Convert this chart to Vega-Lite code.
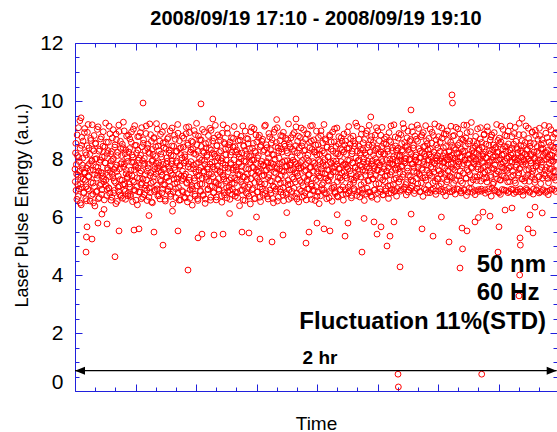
{
"$schema":"https://vega.github.io/schema/vega-lite/v6.json",
"width":482,"height":348,
"autosize":{"type":"none"},
"padding":{"left":75,"top":43,"right":0,"bottom":41},
"title":{"text":"2008/09/19 17:10 - 2008/09/19 19:10","font":"Liberation Sans","fontSize":20,"fontWeight":"bold","color":"black","anchor":"middle","frame":"group","offset":3},
"config":{"view":{"stroke":null},"font":"Liberation Sans","axis":{"grid":false,"domainColor":"#2020dd","tickColor":"#2020dd","domainWidth":1,"tickWidth":1,"labelFont":"Liberation Sans","titleFont":"Liberation Sans","labelColor":"black","titleColor":"black"}},
"datasets":{"pts":[
{"t":0,"e":7.65},{"t":8,"e":8.21},{"t":16,"e":6.92},{"t":24,"e":7.48},{"t":32,"e":8.83},{"t":40,"e":7.12},{"t":48,"e":6.71},{"t":56,"e":8.05},{"t":64,"e":7.91},{"t":72,"e":9.32},{"t":80,"e":6.48},{"t":88,"e":7.36},{"t":96,"e":8.47},{"t":104,"e":7.02},{"t":112,"e":7.79},{"t":120,"e":8.62},{"t":128,"e":6.85},{"t":136,"e":7.55},{"t":144,"e":9.05},{"t":152,"e":7.27},{"t":160,"e":6.63},{"t":168,"e":8.14},{"t":176,"e":7.68},{"t":184,"e":8.92},{"t":192,"e":6.97},{"t":200,"e":7.41},{"t":208,"e":8.38},{"t":216,"e":7.84},{"t":224,"e":6.55},{"t":232,"e":8.71},{"t":240,"e":7.19},{"t":248,"e":7.93},{"t":256,"e":9.18},{"t":264,"e":6.79},{"t":272,"e":7.62},{"t":280,"e":8.28},{"t":288,"e":7.05},{"t":296,"e":6.38},{"t":304,"e":8.55},{"t":312,"e":7.73},{"t":320,"e":8.01},{"t":328,"e":6.89},{"t":336,"e":7.44},{"t":344,"e":9.11},{"t":352,"e":7.58},{"t":360,"e":6.67},{"t":368,"e":8.33},{"t":376,"e":7.96},{"t":384,"e":7.15},{"t":392,"e":8.76},{"t":400,"e":6.94},{"t":408,"e":7.52},{"t":416,"e":8.44},{"t":424,"e":7.31},{"t":432,"e":6.26},{"t":440,"e":8.09},{"t":448,"e":7.87},{"t":456,"e":9.24},{"t":464,"e":7.08},{"t":472,"e":6.74},{"t":480,"e":8.19},{"t":488,"e":7.63},{"t":496,"e":8.58},{"t":504,"e":6.99},{"t":512,"e":7.39},{"t":520,"e":8.87},{"t":528,"e":7.77},{"t":536,"e":6.58},{"t":544,"e":8.26},{"t":552,"e":7.47},{"t":560,"e":7.98},{"t":568,"e":9.01},{"t":576,"e":6.83},{"t":584,"e":7.24},{"t":592,"e":8.41},{"t":600,"e":7.71},{"t":608,"e":6.46},{"t":616,"e":8.67},{"t":624,"e":7.57},{"t":632,"e":8.12},{"t":640,"e":7.03},{"t":648,"e":6.88},{"t":656,"e":8.95},{"t":664,"e":7.66},{"t":672,"e":7.29},{"t":680,"e":8.36},{"t":688,"e":6.72},{"t":696,"e":7.88},{"t":704,"e":8.51},{"t":712,"e":7.11},{"t":720,"e":9.27},{"t":728,"e":6.95},{"t":736,"e":7.83},{"t":744,"e":8.18},{"t":752,"e":6.61},{"t":760,"e":7.49},{"t":768,"e":8.79},{"t":776,"e":7.35},{"t":784,"e":7.92},{"t":792,"e":6.81},
{"t":800,"e":8.24},{"t":808,"e":7.14},{"t":816,"e":8.69},{"t":824,"e":6.77},{"t":832,"e":7.61},{"t":840,"e":8.93},{"t":848,"e":7.42},{"t":856,"e":6.53},{"t":864,"e":8.06},{"t":872,"e":7.89},{"t":880,"e":7.21},{"t":888,"e":9.15},{"t":896,"e":6.91},{"t":904,"e":7.74},{"t":912,"e":8.47},{"t":920,"e":7.05},{"t":928,"e":6.42},{"t":936,"e":8.31},{"t":944,"e":7.96},{"t":952,"e":8.78},{"t":960,"e":7.33},{"t":968,"e":6.86},{"t":976,"e":8.13},{"t":984,"e":7.59},{"t":992,"e":9.08},{"t":1000,"e":7.17},{"t":1008,"e":6.68},{"t":1016,"e":8.54},{"t":1024,"e":7.81},{"t":1032,"e":8.02},{"t":1040,"e":6.99},{"t":1048,"e":7.46},{"t":1056,"e":8.88},{"t":1064,"e":7.28},{"t":1072,"e":6.57},{"t":1080,"e":8.37},{"t":1088,"e":7.69},{"t":1096,"e":8.23},{"t":1104,"e":7.01},{"t":1112,"e":9.21},{"t":1120,"e":6.84},{"t":1128,"e":7.53},{"t":1136,"e":8.61},{"t":1144,"e":7.92},{"t":1152,"e":6.49},{"t":1160,"e":8.16},{"t":1168,"e":7.38},{"t":1176,"e":8.74},{"t":1184,"e":7.64},{"t":1192,"e":6.93},{"t":1200,"e":8.42},{"t":1208,"e":7.86},{"t":1216,"e":7.09},{"t":1224,"e":9.03},{"t":1232,"e":6.73},{"t":1240,"e":7.57},{"t":1248,"e":8.29},{"t":1256,"e":7.78},{"t":1264,"e":6.62},{"t":1272,"e":8.85},{"t":1280,"e":7.23},{"t":1288,"e":8.07},{"t":1296,"e":7.44},{"t":1304,"e":6.96},{"t":1312,"e":8.56},{"t":1320,"e":7.67},{"t":1328,"e":9.13},{"t":1336,"e":7.12},{"t":1344,"e":6.55},{"t":1352,"e":8.34},{"t":1360,"e":7.83},{"t":1368,"e":7.36},{"t":1376,"e":8.69},{"t":1384,"e":6.89},{"t":1392,"e":7.72},{"t":1400,"e":8.21},{"t":1408,"e":7.04},{"t":1416,"e":8.97},{"t":1424,"e":6.71},{"t":1432,"e":7.51},{"t":1440,"e":8.45},{"t":1448,"e":7.94},{"t":1456,"e":6.44},{"t":1464,"e":8.11},{"t":1472,"e":7.31},{"t":1480,"e":8.82},{"t":1488,"e":7.62},{"t":1496,"e":6.98},{"t":1504,"e":8.27},{"t":1512,"e":7.87},{"t":1520,"e":7.19},{"t":1528,"e":9.19},{"t":1536,"e":6.82},{"t":1544,"e":7.48},{"t":1552,"e":8.63},{"t":1560,"e":7.75},{"t":1568,"e":6.59},{"t":1576,"e":8.39},{"t":1584,"e":7.26},{"t":1592,"e":8.04},
{"t":1600,"e":7.58},{"t":1608,"e":6.87},{"t":1616,"e":8.72},{"t":1624,"e":7.41},{"t":1632,"e":8.15},{"t":1640,"e":6.66},{"t":1648,"e":7.93},{"t":1656,"e":9.09},{"t":1664,"e":7.16},{"t":1672,"e":6.52},{"t":1680,"e":8.48},{"t":1688,"e":7.84},{"t":1696,"e":7.27},{"t":1704,"e":8.91},{"t":1712,"e":6.94},{"t":1720,"e":7.67},{"t":1728,"e":8.32},{"t":1736,"e":7.02},{"t":1744,"e":6.41},{"t":1752,"e":8.58},{"t":1760,"e":7.79},{"t":1768,"e":8.19},{"t":1776,"e":7.34},{"t":1784,"e":6.78},{"t":1792,"e":8.84},{"t":1800,"e":7.55},{"t":1808,"e":9.23},{"t":1816,"e":7.08},{"t":1824,"e":6.63},{"t":1832,"e":8.26},{"t":1840,"e":7.88},{"t":1848,"e":7.43},{"t":1856,"e":8.66},{"t":1864,"e":6.91},{"t":1872,"e":7.71},{"t":1880,"e":8.43},{"t":1888,"e":7.13},{"t":1896,"e":9.02},{"t":1904,"e":6.74},{"t":1912,"e":7.59},{"t":1920,"e":8.22},{"t":1928,"e":7.95},{"t":1936,"e":6.47},{"t":1944,"e":8.53},{"t":1952,"e":7.37},{"t":1960,"e":8.08},{"t":1968,"e":7.66},{"t":1976,"e":6.97},{"t":1984,"e":8.81},{"t":1992,"e":7.24},{"t":2000,"e":8.36},{"t":2008,"e":7.82},{"t":2016,"e":6.58},{"t":2024,"e":8.99},{"t":2032,"e":7.49},{"t":2040,"e":7.06},{"t":2048,"e":8.62},{"t":2056,"e":7.73},{"t":2064,"e":6.83},{"t":2072,"e":8.17},{"t":2080,"e":7.91},{"t":2088,"e":9.16},{"t":2096,"e":7.18},{"t":2104,"e":6.69},{"t":2112,"e":8.46},{"t":2120,"e":7.63},{"t":2128,"e":8.03},{"t":2136,"e":7.32},{"t":2144,"e":6.92},{"t":2152,"e":8.77},{"t":2160,"e":7.54},{"t":2168,"e":8.28},{"t":2176,"e":7.09},{"t":2184,"e":6.51},{"t":2192,"e":8.89},{"t":2200,"e":7.85},{"t":2208,"e":7.39},{"t":2216,"e":8.57},{"t":2224,"e":6.76},{"t":2232,"e":7.69},{"t":2240,"e":8.35},{"t":2248,"e":7.97},{"t":2256,"e":7.01},{"t":2264,"e":9.06},{"t":2272,"e":6.88},{"t":2280,"e":7.56},{"t":2288,"e":8.49},{"t":2296,"e":7.28},{"t":2304,"e":6.61},{"t":2312,"e":8.14},{"t":2320,"e":7.81},{"t":2328,"e":8.73},{"t":2336,"e":7.15},{"t":2344,"e":6.95},{"t":2352,"e":8.41},{"t":2360,"e":7.68},{"t":2368,"e":9.12},{"t":2376,"e":7.35},{"t":2384,"e":6.72},{"t":2392,"e":8.24},
{"t":2400,"e":7.61},{"t":2408,"e":8.86},{"t":2416,"e":6.84},{"t":2424,"e":7.47},{"t":2432,"e":8.18},{"t":2440,"e":7.89},{"t":2448,"e":6.39},{"t":2456,"e":8.65},{"t":2464,"e":7.22},{"t":2472,"e":8.01},{"t":2480,"e":7.74},{"t":2488,"e":6.93},{"t":2496,"e":9.14},{"t":2504,"e":7.38},{"t":2512,"e":8.44},{"t":2520,"e":7.06},{"t":2528,"e":6.57},{"t":2536,"e":8.29},{"t":2544,"e":7.91},{"t":2552,"e":8.71},{"t":2560,"e":7.29},{"t":2568,"e":6.79},{"t":2576,"e":8.53},{"t":2584,"e":7.65},{"t":2592,"e":8.09},{"t":2600,"e":7.12},{"t":2608,"e":6.45},{"t":2616,"e":8.94},{"t":2624,"e":7.52},{"t":2632,"e":7.97},{"t":2640,"e":8.37},{"t":2648,"e":6.98},{"t":2656,"e":7.71},{"t":2664,"e":9.04},{"t":2672,"e":7.19},{"t":2680,"e":6.64},{"t":2688,"e":8.22},{"t":2696,"e":7.84},{"t":2704,"e":8.59},{"t":2712,"e":7.33},{"t":2720,"e":6.87},{"t":2728,"e":8.12},{"t":2736,"e":7.58},{"t":2744,"e":8.82},{"t":2752,"e":7.03},{"t":2760,"e":6.53},{"t":2768,"e":8.47},{"t":2776,"e":7.92},{"t":2784,"e":7.41},{"t":2792,"e":8.68},{"t":2800,"e":6.75},{"t":2808,"e":7.79},{"t":2816,"e":8.31},{"t":2824,"e":7.14},{"t":2832,"e":9.17},{"t":2840,"e":6.91},{"t":2848,"e":7.63},{"t":2856,"e":8.39},{"t":2864,"e":7.87},{"t":2872,"e":6.62},{"t":2880,"e":8.04},{"t":2888,"e":7.46},{"t":2896,"e":8.76},{"t":2904,"e":7.25},{"t":2912,"e":6.81},{"t":2920,"e":8.55},{"t":2928,"e":7.73},{"t":2936,"e":8.16},{"t":2944,"e":7.07},{"t":2952,"e":6.49},{"t":2960,"e":8.92},{"t":2968,"e":7.54},{"t":2976,"e":7.99},{"t":2984,"e":8.43},{"t":2992,"e":6.96},{"t":3000,"e":7.67},{"t":3008,"e":9.08},{"t":3016,"e":7.31},{"t":3024,"e":6.68},{"t":3032,"e":8.27},{"t":3040,"e":7.82},{"t":3048,"e":8.63},{"t":3056,"e":7.17},{"t":3064,"e":6.86},{"t":3072,"e":8.35},{"t":3080,"e":7.59},{"t":3088,"e":8.79},{"t":3096,"e":7.02},{"t":3104,"e":6.56},{"t":3112,"e":8.51},{"t":3120,"e":7.94},{"t":3128,"e":7.43},{"t":3136,"e":8.71},{"t":3144,"e":6.78},{"t":3152,"e":7.76},{"t":3160,"e":8.21},{"t":3168,"e":7.11},{"t":3176,"e":9.21},{"t":3184,"e":6.94},{"t":3192,"e":7.62},
{"t":3200,"e":8.42},{"t":3208,"e":7.86},{"t":3216,"e":6.67},{"t":3224,"e":8.07},{"t":3232,"e":7.37},{"t":3240,"e":8.84},{"t":3248,"e":7.64},{"t":3256,"e":6.99},{"t":3264,"e":8.26},{"t":3272,"e":7.89},{"t":3280,"e":7.21},{"t":3288,"e":9.11},{"t":3296,"e":6.83},{"t":3304,"e":7.51},{"t":3312,"e":8.61},{"t":3320,"e":7.77},{"t":3328,"e":6.52},{"t":3336,"e":8.38},{"t":3344,"e":7.26},{"t":3352,"e":8.74},{"t":3360,"e":7.68},{"t":3368,"e":6.89},{"t":3376,"e":8.45},{"t":3384,"e":7.95},{"t":3392,"e":7.08},{"t":3400,"e":9.01},{"t":3408,"e":6.73},{"t":3416,"e":7.58},{"t":3424,"e":8.31},{"t":3432,"e":7.81},{"t":3440,"e":6.59},{"t":3448,"e":8.87},{"t":3456,"e":7.29},{"t":3464,"e":8.13},{"t":3472,"e":7.45},{"t":3480,"e":6.97},{"t":3488,"e":8.57},{"t":3496,"e":7.71},{"t":3504,"e":9.14},{"t":3512,"e":7.13},{"t":3520,"e":6.61},{"t":3528,"e":8.33},{"t":3536,"e":7.91},{"t":3544,"e":7.34},{"t":3552,"e":8.66},{"t":3560,"e":6.92},{"t":3568,"e":7.74},{"t":3576,"e":8.24},{"t":3584,"e":7.05},{"t":3592,"e":8.96},{"t":3600,"e":6.71},{"t":3608,"e":7.53},{"t":3616,"e":8.49},{"t":3624,"e":7.97},{"t":3632,"e":6.46},{"t":3640,"e":8.17},{"t":3648,"e":7.36},{"t":3656,"e":8.81},{"t":3664,"e":7.66},{"t":3672,"e":6.95},{"t":3680,"e":8.28},{"t":3688,"e":7.88},{"t":3696,"e":7.18},{"t":3704,"e":9.19},{"t":3712,"e":6.84},{"t":3720,"e":7.49},{"t":3728,"e":8.64},{"t":3736,"e":7.78},{"t":3744,"e":6.63},{"t":3752,"e":8.41},{"t":3760,"e":7.27},{"t":3768,"e":8.06},{"t":3776,"e":7.61},{"t":3784,"e":6.88},{"t":3792,"e":8.78},{"t":3800,"e":7.39},{"t":3808,"e":8.34},{"t":3816,"e":7.84},{"t":3824,"e":6.54},{"t":3832,"e":8.93},{"t":3840,"e":7.56},{"t":3848,"e":7.09},{"t":3856,"e":8.59},{"t":3864,"e":7.73},{"t":3872,"e":6.81},{"t":3880,"e":8.19},{"t":3888,"e":7.93},{"t":3896,"e":9.07},{"t":3904,"e":7.22},{"t":3912,"e":6.69},{"t":3920,"e":8.52},{"t":3928,"e":7.67},{"t":3936,"e":8.11},{"t":3944,"e":7.35},{"t":3952,"e":6.93},{"t":3960,"e":8.73},{"t":3968,"e":7.52},{"t":3976,"e":8.32},{"t":3984,"e":7.04},{"t":3992,"e":6.58},
{"t":4000,"e":8.86},{"t":4008,"e":7.83},{"t":4016,"e":7.42},{"t":4024,"e":8.62},{"t":4032,"e":6.79},{"t":4040,"e":7.72},{"t":4048,"e":8.37},{"t":4056,"e":7.96},{"t":4064,"e":7.03},{"t":4072,"e":9.12},{"t":4080,"e":6.89},{"t":4088,"e":7.59},{"t":4096,"e":8.51},{"t":4104,"e":7.31},{"t":4112,"e":6.66},{"t":4120,"e":8.18},{"t":4128,"e":7.87},{"t":4136,"e":8.79},{"t":4144,"e":7.19},{"t":4152,"e":6.97},{"t":4160,"e":8.44},{"t":4168,"e":7.69},{"t":4176,"e":9.24},{"t":4184,"e":7.36},{"t":4192,"e":6.74},{"t":4200,"e":8.27},{"t":4208,"e":7.94},{"t":4216,"e":7.47},{"t":4224,"e":8.68},{"t":4232,"e":6.91},{"t":4240,"e":7.78},{"t":4248,"e":8.33},{"t":4256,"e":7.11},{"t":4264,"e":9.03},{"t":4272,"e":6.82},{"t":4280,"e":7.63},{"t":4288,"e":8.56},{"t":4296,"e":8.01},{"t":4304,"e":6.57},{"t":4312,"e":8.21},{"t":4320,"e":7.44},{"t":4328,"e":8.88},{"t":4336,"e":7.71},{"t":4344,"e":6.99},{"t":4352,"e":8.39},{"t":4360,"e":7.92},{"t":4368,"e":7.24},{"t":4376,"e":9.16},{"t":4384,"e":6.86},{"t":4392,"e":7.57},{"t":4400,"e":8.66},{"t":4408,"e":7.82},{"t":4416,"e":6.68},{"t":4424,"e":8.47},{"t":4432,"e":7.32},{"t":4440,"e":8.14},{"t":4448,"e":7.67},{"t":4456,"e":6.94},{"t":4464,"e":8.83},{"t":4472,"e":7.43},{"t":4480,"e":8.36},{"t":4488,"e":7.89},{"t":4496,"e":6.61},{"t":4504,"e":8.97},{"t":4512,"e":7.62},{"t":4520,"e":7.15},{"t":4528,"e":8.63},{"t":4536,"e":7.79},{"t":4544,"e":6.87},{"t":4552,"e":8.24},{"t":4560,"e":7.98},{"t":4568,"e":9.09},{"t":4576,"e":7.28},{"t":4584,"e":6.77},{"t":4592,"e":8.54},{"t":4600,"e":7.74},{"t":4608,"e":8.17},{"t":4616,"e":7.41},{"t":4624,"e":6.98},{"t":4632,"e":8.76},{"t":4640,"e":7.58},{"t":4648,"e":8.35},{"t":4656,"e":7.07},{"t":4664,"e":6.64},{"t":4672,"e":8.91},{"t":4680,"e":7.86},{"t":4688,"e":7.46},{"t":4696,"e":8.59},{"t":4704,"e":6.83},{"t":4712,"e":7.81},{"t":4720,"e":8.29},{"t":4728,"e":7.99},{"t":4736,"e":7.13},{"t":4744,"e":9.18},{"t":4752,"e":6.92},{"t":4760,"e":7.68},{"t":4768,"e":8.45},{"t":4776,"e":7.34},{"t":4784,"e":6.72},{"t":4792,"e":8.12},
{"t":4800,"e":7.88},{"t":4808,"e":8.72},{"t":4816,"e":7.21},{"t":4824,"e":8.09},{"t":4832,"e":7.54},{"t":4840,"e":6.89},{"t":4848,"e":8.84},{"t":4856,"e":7.76},{"t":4864,"e":8.31},{"t":4872,"e":7.38},{"t":4880,"e":9.22},{"t":4888,"e":6.97},{"t":4896,"e":7.93},{"t":4904,"e":8.57},{"t":4912,"e":8.02},{"t":4920,"e":7.12},{"t":4928,"e":6.76},{"t":4936,"e":8.46},{"t":4944,"e":7.69},{"t":4952,"e":8.96},{"t":4960,"e":7.44},{"t":4968,"e":6.93},{"t":4976,"e":8.23},{"t":4984,"e":7.99},{"t":4992,"e":8.67},{"t":5000,"e":7.27},{"t":5008,"e":9.11},{"t":5016,"e":7.06},{"t":5024,"e":7.84},{"t":5032,"e":8.38},{"t":5040,"e":7.57},{"t":5048,"e":6.81},{"t":5056,"e":8.79},{"t":5064,"e":7.96},{"t":5072,"e":8.14},{"t":5080,"e":7.33},{"t":5088,"e":6.99},{"t":5096,"e":8.61},{"t":5104,"e":7.72},{"t":5112,"e":9.05},{"t":5120,"e":7.48},{"t":5128,"e":6.87},{"t":5136,"e":8.27},{"t":5144,"e":8.04},{"t":5152,"e":7.18},{"t":5160,"e":8.83},{"t":5168,"e":7.63},{"t":5176,"e":6.71},{"t":5184,"e":8.42},{"t":5192,"e":7.91},{"t":5200,"e":8.18},{"t":5208,"e":7.36},{"t":5216,"e":9.15},{"t":5224,"e":6.94},{"t":5232,"e":7.79},{"t":5240,"e":8.53},{"t":5248,"e":7.97},{"t":5256,"e":7.09},{"t":5264,"e":8.71},{"t":5272,"e":7.52},{"t":5280,"e":6.84},{"t":5288,"e":8.34},{"t":5296,"e":8.07},{"t":5304,"e":7.41},{"t":5312,"e":8.92},{"t":5320,"e":7.67},{"t":5328,"e":6.96},{"t":5336,"e":8.24},{"t":5344,"e":7.86},{"t":5352,"e":9.21},{"t":5360,"e":7.23},{"t":5368,"e":6.78},{"t":5376,"e":8.49},{"t":5384,"e":7.94},{"t":5392,"e":8.11},{"t":5400,"e":7.31},{"t":5408,"e":8.77},{"t":5416,"e":7.59},{"t":5424,"e":6.91},{"t":5432,"e":8.58},{"t":5440,"e":8.01},{"t":5448,"e":7.14},{"t":5456,"e":9.07},{"t":5464,"e":7.74},{"t":5472,"e":6.86},{"t":5480,"e":8.39},{"t":5488,"e":7.89},{"t":5496,"e":8.21},{"t":5504,"e":7.47},{"t":5512,"e":6.73},{"t":5520,"e":8.86},{"t":5528,"e":7.98},{"t":5536,"e":7.29},{"t":5544,"e":8.64},{"t":5552,"e":7.81},{"t":5560,"e":6.98},{"t":5568,"e":8.28},{"t":5576,"e":8.06},{"t":5584,"e":7.38},{"t":5592,"e":9.13},
{"t":5600,"e":7.71},{"t":5608,"e":6.88},{"t":5616,"e":8.47},{"t":5624,"e":8.03},{"t":5632,"e":7.16},{"t":5640,"e":8.81},{"t":5648,"e":7.62},{"t":5656,"e":6.79},{"t":5664,"e":8.33},{"t":5672,"e":7.94},{"t":5680,"e":8.19},{"t":5688,"e":7.43},{"t":5696,"e":9.04},{"t":5704,"e":6.95},{"t":5712,"e":7.83},{"t":5720,"e":8.56},{"t":5728,"e":8.08},{"t":5736,"e":7.24},{"t":5744,"e":6.83},{"t":5752,"e":8.69},{"t":5760,"e":7.77},{"t":5768,"e":8.26},{"t":5776,"e":7.51},{"t":5784,"e":9.17},{"t":5792,"e":6.92},{"t":5800,"e":7.97},{"t":5808,"e":8.44},{"t":5816,"e":7.34},{"t":5824,"e":6.74},{"t":5832,"e":8.91},{"t":5840,"e":7.86},{"t":5848,"e":8.13},{"t":5856,"e":7.57},{"t":5864,"e":6.99},{"t":5872,"e":8.62},{"t":5880,"e":8.02},{"t":5888,"e":7.19},{"t":5896,"e":9.26},{"t":5904,"e":7.68},{"t":5912,"e":6.85},{"t":5920,"e":8.37},{"t":5928,"e":7.91},{"t":5936,"e":8.22},{"t":5944,"e":7.39},{"t":5952,"e":6.77},{"t":5960,"e":8.78},{"t":5968,"e":7.99},{"t":5976,"e":7.26},{"t":5984,"e":8.54},{"t":5992,"e":7.73},{"t":6000,"e":6.94},{"t":6008,"e":8.31},{"t":6016,"e":8.09},{"t":6024,"e":7.45},{"t":6032,"e":9.08},{"t":6040,"e":7.64},{"t":6048,"e":6.89},{"t":6056,"e":8.41},{"t":6064,"e":7.92},{"t":6072,"e":8.17},{"t":6080,"e":7.32},{"t":6088,"e":8.86},{"t":6096,"e":7.55},{"t":6104,"e":6.82},{"t":6112,"e":8.51},{"t":6120,"e":8.04},{"t":6128,"e":7.21},{"t":6136,"e":8.97},{"t":6144,"e":7.78},{"t":6152,"e":6.97},{"t":6160,"e":8.29},{"t":6168,"e":7.88},{"t":6176,"e":8.66},{"t":6184,"e":7.37},{"t":6192,"e":6.72},{"t":6200,"e":8.83},{"t":6208,"e":7.95},{"t":6216,"e":7.13},{"t":6224,"e":8.48},{"t":6232,"e":7.66},{"t":6240,"e":6.91},{"t":6248,"e":8.36},{"t":6256,"e":8.11},{"t":6264,"e":7.49},{"t":6272,"e":9.19},{"t":6280,"e":7.59},{"t":6288,"e":6.86},{"t":6296,"e":8.24},{"t":6304,"e":7.96},{"t":6312,"e":8.72},{"t":6320,"e":7.28},{"t":6328,"e":6.78},{"t":6336,"e":8.59},{"t":6344,"e":7.84},{"t":6352,"e":8.14},{"t":6360,"e":7.42},{"t":6368,"e":9.02},{"t":6376,"e":7.69},{"t":6384,"e":6.93},{"t":6392,"e":8.43},
{"t":6400,"e":7.93},{"t":6408,"e":8.27},{"t":6416,"e":7.35},{"t":6424,"e":8.79},{"t":6432,"e":7.61},{"t":6440,"e":6.84},{"t":6448,"e":8.52},{"t":6456,"e":8.06},{"t":6464,"e":7.22},{"t":6472,"e":9.14},{"t":6480,"e":7.74},{"t":6488,"e":6.96},{"t":6496,"e":8.38},{"t":6504,"e":7.89},{"t":6512,"e":8.18},{"t":6520,"e":7.44},{"t":6528,"e":6.81},{"t":6536,"e":8.88},{"t":6544,"e":7.98},{"t":6552,"e":7.17},{"t":6560,"e":8.61},{"t":6568,"e":7.79},{"t":6576,"e":6.92},{"t":6584,"e":8.33},{"t":6592,"e":8.01},{"t":6600,"e":7.52},{"t":6608,"e":9.23},{"t":6616,"e":7.67},{"t":6624,"e":6.87},{"t":6632,"e":8.46},{"t":6640,"e":7.91},{"t":6648,"e":8.21},{"t":6656,"e":7.31},{"t":6664,"e":6.75},{"t":6672,"e":8.84},{"t":6680,"e":7.97},{"t":6688,"e":7.24},{"t":6696,"e":8.57},{"t":6704,"e":7.83},{"t":6712,"e":6.98},{"t":6720,"e":8.32},{"t":6728,"e":8.09},{"t":6736,"e":7.46},{"t":6744,"e":9.06},{"t":6752,"e":7.63},{"t":6760,"e":6.89},{"t":6768,"e":8.44},{"t":6776,"e":7.94},{"t":6784,"e":8.16},{"t":6792,"e":7.37},{"t":6800,"e":8.92},{"t":6808,"e":7.58},{"t":6816,"e":6.79},{"t":6824,"e":8.53},{"t":6832,"e":8.03},{"t":6840,"e":7.19},{"t":6848,"e":8.99},{"t":6856,"e":7.76},{"t":6864,"e":6.94},{"t":6872,"e":8.26},{"t":6880,"e":7.87},{"t":6888,"e":8.68},{"t":6896,"e":7.39},{"t":6904,"e":6.83},{"t":6912,"e":8.81},{"t":6920,"e":7.96},{"t":6928,"e":7.15},{"t":6936,"e":8.49},{"t":6944,"e":7.71},{"t":6952,"e":6.91},{"t":6960,"e":8.35},{"t":6968,"e":8.12},{"t":6976,"e":7.48},{"t":6984,"e":9.16},{"t":6992,"e":7.62},{"t":7000,"e":6.85},{"t":7008,"e":8.23},{"t":7016,"e":7.99},{"t":7024,"e":8.74},{"t":7032,"e":7.33},{"t":7040,"e":6.77},{"t":7048,"e":8.58},{"t":7056,"e":7.85},{"t":7064,"e":8.15},{"t":7072,"e":7.43},{"t":7080,"e":9.01},{"t":7088,"e":7.66},{"t":7096,"e":6.97},{"t":7104,"e":8.42},{"t":7112,"e":7.92},{"t":7120,"e":8.28},{"t":7128,"e":7.36},{"t":7136,"e":8.86},{"t":7144,"e":7.57},{"t":7152,"e":6.88},{"t":7160,"e":8.54},{"t":7168,"e":8.07},
{"t":4,"e":7.22},{"t":12,"e":8.54},{"t":20,"e":7.81},{"t":28,"e":6.61},{"t":36,"e":8.12},{"t":44,"e":7.44},{"t":52,"e":9.08},{"t":60,"e":6.97},{"t":68,"e":7.58},{"t":76,"e":8.37},{"t":84,"e":7.13},{"t":92,"e":6.42},{"t":100,"e":8.75},{"t":108,"e":7.67},{"t":116,"e":8.03},{"t":124,"e":7.31},{"t":132,"e":6.83},{"t":140,"e":8.91},{"t":148,"e":7.52},{"t":156,"e":8.22},{"t":164,"e":7.04},{"t":172,"e":6.56},{"t":180,"e":8.46},{"t":188,"e":7.77},{"t":196,"e":9.19},{"t":204,"e":7.38},{"t":212,"e":6.91},{"t":220,"e":8.16},{"t":228,"e":7.62},{"t":236,"e":8.64},{"t":244,"e":6.74},{"t":252,"e":7.95},{"t":260,"e":8.33},{"t":268,"e":7.17},{"t":276,"e":6.49},{"t":284,"e":8.81},{"t":292,"e":7.46},{"t":300,"e":7.99},{"t":308,"e":8.52},{"t":316,"e":6.87},{"t":324,"e":7.34},{"t":332,"e":9.02},{"t":340,"e":7.71},{"t":348,"e":6.63},{"t":356,"e":8.27},{"t":364,"e":7.88},{"t":372,"e":7.09},{"t":380,"e":8.69},{"t":388,"e":7.53},{"t":396,"e":6.78},{"t":404,"e":8.07},{"t":412,"e":7.42},{"t":420,"e":8.94},{"t":428,"e":7.21},{"t":436,"e":6.59},{"t":444,"e":8.41},{"t":452,"e":7.86},{"t":460,"e":7.28},{"t":468,"e":8.58},{"t":476,"e":6.95},{"t":484,"e":7.69},{"t":492,"e":8.29},{"t":500,"e":7.01},{"t":508,"e":9.13},{"t":516,"e":6.82},{"t":524,"e":7.57},{"t":532,"e":8.18},{"t":540,"e":7.93},{"t":548,"e":6.68},{"t":556,"e":8.73},{"t":564,"e":7.36},{"t":572,"e":8.01},{"t":580,"e":7.64},{"t":588,"e":6.92},{"t":596,"e":8.49},{"t":604,"e":7.18},{"t":612,"e":8.86},{"t":620,"e":7.79},{"t":628,"e":6.54},{"t":636,"e":8.23},{"t":644,"e":7.41},{"t":652,"e":9.17},{"t":660,"e":7.07},{"t":668,"e":6.76},{"t":676,"e":8.61},{"t":684,"e":7.83},{"t":692,"e":8.12},{"t":700,"e":7.27},{"t":708,"e":6.65},{"t":716,"e":8.39},{"t":724,"e":7.72},{"t":732,"e":8.97},{"t":740,"e":7.14},{"t":748,"e":6.89},{"t":756,"e":8.31},{"t":764,"e":7.61},{"t":772,"e":8.05},{"t":780,"e":7.39},{"t":788,"e":6.73},{"t":796,"e":8.82},
{"t":804,"e":7.47},{"t":812,"e":8.36},{"t":820,"e":7.03},{"t":828,"e":6.71},{"t":836,"e":8.58},{"t":844,"e":7.89},{"t":852,"e":8.14},{"t":860,"e":7.26},{"t":868,"e":9.03},{"t":876,"e":6.94},{"t":884,"e":7.63},{"t":892,"e":8.47},{"t":900,"e":7.78},{"t":908,"e":6.58},{"t":916,"e":8.21},{"t":924,"e":7.35},{"t":932,"e":8.77},{"t":940,"e":7.69},{"t":948,"e":6.86},{"t":956,"e":8.03},{"t":964,"e":7.52},{"t":972,"e":8.91},{"t":980,"e":7.12},{"t":988,"e":6.63},{"t":996,"e":8.42},{"t":1004,"e":7.94},{"t":1012,"e":7.31},{"t":1020,"e":8.66},{"t":1028,"e":6.77},{"t":1036,"e":7.85},{"t":1044,"e":8.29},{"t":1052,"e":7.08},{"t":1060,"e":9.14},{"t":1068,"e":6.93},{"t":1076,"e":7.58},{"t":1084,"e":8.51},{"t":1092,"e":7.82},{"t":1100,"e":6.69},{"t":1108,"e":8.19},{"t":1116,"e":7.43},{"t":1124,"e":8.84},{"t":1132,"e":7.16},{"t":1140,"e":6.52},{"t":1148,"e":8.33},{"t":1156,"e":7.97},{"t":1164,"e":7.22},{"t":1172,"e":8.71},{"t":1180,"e":6.88},{"t":1188,"e":7.74},{"t":1196,"e":8.09},{"t":1204,"e":7.49},{"t":1212,"e":9.22},{"t":1220,"e":6.97},{"t":1228,"e":7.67},{"t":1236,"e":8.45},{"t":1244,"e":7.87},{"t":1252,"e":6.74},{"t":1260,"e":8.62},{"t":1268,"e":7.29},{"t":1276,"e":8.17},{"t":1284,"e":7.56},{"t":1292,"e":6.83},{"t":1300,"e":8.93},{"t":1308,"e":7.81},{"t":1316,"e":7.11},{"t":1324,"e":8.39},{"t":1332,"e":7.64},{"t":1340,"e":6.61},{"t":1348,"e":8.57},{"t":1356,"e":7.37},{"t":1364,"e":8.04},{"t":1372,"e":7.92},{"t":1380,"e":6.95},{"t":1388,"e":8.74},{"t":1396,"e":7.24},{"t":1404,"e":8.31},{"t":1412,"e":7.59},{"t":1420,"e":6.79},{"t":1428,"e":8.12},{"t":1436,"e":7.83},{"t":1444,"e":9.07},{"t":1452,"e":7.45},{"t":1460,"e":6.87},{"t":1468,"e":8.44},{"t":1476,"e":7.71},{"t":1484,"e":7.15},{"t":1492,"e":8.68},{"t":1500,"e":6.67},{"t":1508,"e":7.93},{"t":1516,"e":8.26},{"t":1524,"e":7.33},{"t":1532,"e":8.89},{"t":1540,"e":7.02},{"t":1548,"e":6.58},{"t":1556,"e":8.36},{"t":1564,"e":7.79},{"t":1572,"e":8.15},{"t":1580,"e":7.41},{"t":1588,"e":6.91},{"t":1596,"e":8.79},
{"t":1604,"e":7.32},{"t":1612,"e":8.41},{"t":1620,"e":7.86},{"t":1628,"e":6.69},{"t":1636,"e":8.07},{"t":1644,"e":7.48},{"t":1652,"e":8.87},{"t":1660,"e":7.19},{"t":1668,"e":6.81},{"t":1676,"e":8.54},{"t":1684,"e":7.73},{"t":1692,"e":9.11},{"t":1700,"e":7.37},{"t":1708,"e":6.64},{"t":1716,"e":8.24},{"t":1724,"e":7.91},{"t":1732,"e":8.62},{"t":1740,"e":7.08},{"t":1748,"e":6.96},{"t":1756,"e":8.35},{"t":1764,"e":7.66},{"t":1772,"e":8.98},{"t":1780,"e":7.25},{"t":1788,"e":6.72},{"t":1796,"e":8.16},{"t":1804,"e":7.84},{"t":1812,"e":8.49},{"t":1820,"e":7.43},{"t":1828,"e":6.57},{"t":1836,"e":8.79},{"t":1844,"e":7.61},{"t":1852,"e":8.02},{"t":1860,"e":7.14},{"t":1868,"e":6.88},{"t":1876,"e":8.66},{"t":1884,"e":7.96},{"t":1892,"e":7.34},{"t":1900,"e":8.27},{"t":1908,"e":6.77},{"t":1916,"e":7.54},{"t":1924,"e":8.93},{"t":1932,"e":7.81},{"t":1940,"e":6.62},{"t":1948,"e":8.38},{"t":1956,"e":7.29},{"t":1964,"e":8.13},{"t":1972,"e":7.72},{"t":1980,"e":6.94},{"t":1988,"e":8.57},{"t":1996,"e":7.47},{"t":2004,"e":9.06},{"t":2012,"e":7.06},{"t":2020,"e":6.68},{"t":2028,"e":8.31},{"t":2036,"e":7.89},{"t":2044,"e":8.19},{"t":2052,"e":7.39},{"t":2060,"e":6.85},{"t":2068,"e":8.72},{"t":2076,"e":7.64},{"t":2084,"e":8.09},{"t":2092,"e":7.22},{"t":2100,"e":6.59},{"t":2108,"e":8.46},{"t":2116,"e":7.76},{"t":2124,"e":8.83},{"t":2132,"e":7.12},{"t":2140,"e":6.97},{"t":2148,"e":8.23},{"t":2156,"e":7.57},{"t":2164,"e":8.64},{"t":2172,"e":7.94},{"t":2180,"e":6.73},{"t":2188,"e":8.02},{"t":2196,"e":7.45},{"t":2204,"e":9.18},{"t":2212,"e":7.31},{"t":2220,"e":6.84},{"t":2228,"e":8.52},{"t":2236,"e":7.79},{"t":2244,"e":8.14},{"t":2252,"e":7.24},{"t":2260,"e":6.66},{"t":2268,"e":8.89},{"t":2276,"e":7.68},{"t":2284,"e":8.36},{"t":2292,"e":7.04},{"t":2300,"e":6.92},{"t":2308,"e":8.59},{"t":2316,"e":7.87},{"t":2324,"e":7.35},{"t":2332,"e":8.24},{"t":2340,"e":6.78},{"t":2348,"e":7.62},{"t":2356,"e":8.71},{"t":2364,"e":7.97},{"t":2372,"e":7.16},{"t":2380,"e":8.43},{"t":2388,"e":6.86},{"t":2396,"e":7.73},
{"t":2404,"e":8.31},{"t":2412,"e":7.27},{"t":2420,"e":6.67},{"t":2428,"e":8.63},{"t":2436,"e":7.84},{"t":2444,"e":8.07},{"t":2452,"e":7.46},{"t":2460,"e":6.91},{"t":2468,"e":8.78},{"t":2476,"e":7.58},{"t":2484,"e":8.21},{"t":2492,"e":7.12},{"t":2500,"e":6.59},{"t":2508,"e":8.47},{"t":2516,"e":7.93},{"t":2524,"e":7.38},{"t":2532,"e":8.96},{"t":2540,"e":7.67},{"t":2548,"e":6.83},{"t":2556,"e":8.16},{"t":2564,"e":7.49},{"t":2572,"e":8.69},{"t":2580,"e":7.03},{"t":2588,"e":6.72},{"t":2596,"e":8.36},{"t":2604,"e":7.88},{"t":2612,"e":8.11},{"t":2620,"e":7.32},{"t":2628,"e":9.09},{"t":2636,"e":6.94},{"t":2644,"e":7.71},{"t":2652,"e":8.54},{"t":2660,"e":7.96},{"t":2668,"e":6.63},{"t":2676,"e":8.27},{"t":2684,"e":7.41},{"t":2692,"e":8.83},{"t":2700,"e":7.62},{"t":2708,"e":6.86},{"t":2716,"e":8.04},{"t":2724,"e":7.54},{"t":2732,"e":8.74},{"t":2740,"e":7.21},{"t":2748,"e":6.68},{"t":2756,"e":8.42},{"t":2764,"e":7.83},{"t":2772,"e":7.14},{"t":2780,"e":8.61},{"t":2788,"e":6.97},{"t":2796,"e":7.77},{"t":2804,"e":8.26},{"t":2812,"e":7.44},{"t":2820,"e":9.13},{"t":2828,"e":6.81},{"t":2836,"e":7.59},{"t":2844,"e":8.49},{"t":2852,"e":7.91},{"t":2860,"e":6.71},{"t":2868,"e":8.19},{"t":2876,"e":7.36},{"t":2884,"e":8.88},{"t":2892,"e":7.69},{"t":2900,"e":6.93},{"t":2908,"e":8.32},{"t":2916,"e":7.86},{"t":2924,"e":7.24},{"t":2932,"e":8.67},{"t":2940,"e":6.64},{"t":2948,"e":7.82},{"t":2956,"e":8.14},{"t":2964,"e":7.03},{"t":2972,"e":9.02},{"t":2980,"e":6.89},{"t":2988,"e":7.51},{"t":2996,"e":8.57},{"t":3004,"e":7.74},{"t":3012,"e":6.55},{"t":3020,"e":8.38},{"t":3028,"e":7.29},{"t":3036,"e":8.03},{"t":3044,"e":7.66},{"t":3052,"e":6.96},{"t":3060,"e":8.81},{"t":3068,"e":7.43},{"t":3076,"e":8.24},{"t":3084,"e":7.89},{"t":3092,"e":6.76},{"t":3100,"e":8.92},{"t":3108,"e":7.57},{"t":3116,"e":7.18},{"t":3124,"e":8.44},{"t":3132,"e":7.72},{"t":3140,"e":6.84},{"t":3148,"e":8.29},{"t":3156,"e":7.94},{"t":3164,"e":8.66},{"t":3172,"e":7.26},{"t":3180,"e":6.61},{"t":3188,"e":8.53},{"t":3196,"e":7.79},
{"t":3204,"e":7.14},{"t":3212,"e":8.73},{"t":3220,"e":7.62},{"t":3228,"e":6.88},{"t":3236,"e":8.34},{"t":3244,"e":7.96},{"t":3252,"e":7.31},{"t":3260,"e":8.91},{"t":3268,"e":6.71},{"t":3276,"e":7.53},{"t":3284,"e":8.46},{"t":3292,"e":7.83},{"t":3300,"e":6.62},{"t":3308,"e":8.21},{"t":3316,"e":7.42},{"t":3324,"e":8.79},{"t":3332,"e":7.68},{"t":3340,"e":6.95},{"t":3348,"e":8.12},{"t":3356,"e":7.88},{"t":3364,"e":9.07},{"t":3372,"e":7.19},{"t":3380,"e":6.69},{"t":3388,"e":8.57},{"t":3396,"e":7.74},{"t":3404,"e":8.29},{"t":3412,"e":7.36},{"t":3420,"e":6.84},{"t":3428,"e":8.68},{"t":3436,"e":7.61},{"t":3444,"e":8.03},{"t":3452,"e":7.23},{"t":3460,"e":6.97},{"t":3468,"e":8.85},{"t":3476,"e":7.94},{"t":3484,"e":7.47},{"t":3492,"e":8.39},{"t":3500,"e":6.76},{"t":3508,"e":7.71},{"t":3516,"e":8.62},{"t":3524,"e":7.06},{"t":3532,"e":9.16},{"t":3540,"e":6.91},{"t":3548,"e":7.58},{"t":3556,"e":8.24},{"t":3564,"e":7.86},{"t":3572,"e":6.57},{"t":3580,"e":8.48},{"t":3588,"e":7.29},{"t":3596,"e":8.14},{"t":3604,"e":7.67},{"t":3612,"e":6.86},{"t":3620,"e":8.74},{"t":3628,"e":7.41},{"t":3636,"e":8.33},{"t":3644,"e":7.91},{"t":3652,"e":6.73},{"t":3660,"e":8.97},{"t":3668,"e":7.52},{"t":3676,"e":7.11},{"t":3684,"e":8.56},{"t":3692,"e":7.77},{"t":3700,"e":6.94},{"t":3708,"e":8.21},{"t":3716,"e":7.98},{"t":3724,"e":8.69},{"t":3732,"e":7.34},{"t":3740,"e":6.81},{"t":3748,"e":8.41},{"t":3756,"e":7.63},{"t":3764,"e":8.08},{"t":3772,"e":7.24},{"t":3780,"e":6.66},{"t":3788,"e":8.83},{"t":3796,"e":7.89},{"t":3804,"e":7.46},{"t":3812,"e":8.59},{"t":3820,"e":6.99},{"t":3828,"e":7.68},{"t":3836,"e":8.27},{"t":3844,"e":7.93},{"t":3852,"e":7.02},{"t":3860,"e":9.04},{"t":3868,"e":6.87},{"t":3876,"e":7.56},{"t":3884,"e":8.44},{"t":3892,"e":7.82},{"t":3900,"e":6.72},{"t":3908,"e":8.18},{"t":3916,"e":7.37},{"t":3924,"e":8.77},{"t":3932,"e":7.64},{"t":3940,"e":6.95},{"t":3948,"e":8.36},{"t":3956,"e":7.91},{"t":3964,"e":7.27},{"t":3972,"e":8.61},{"t":3980,"e":6.78},{"t":3988,"e":7.79},{"t":3996,"e":8.24},
{"t":4004,"e":7.56},{"t":4012,"e":8.49},{"t":4020,"e":6.94},{"t":4028,"e":7.81},{"t":4036,"e":8.16},{"t":4044,"e":7.34},{"t":4052,"e":8.93},{"t":4060,"e":7.67},{"t":4068,"e":6.82},{"t":4076,"e":8.38},{"t":4084,"e":7.95},{"t":4092,"e":7.12},{"t":4100,"e":8.71},{"t":4108,"e":7.49},{"t":4116,"e":6.74},{"t":4124,"e":8.27},{"t":4132,"e":7.86},{"t":4140,"e":8.62},{"t":4148,"e":7.28},{"t":4156,"e":6.91},{"t":4164,"e":8.53},{"t":4172,"e":7.73},{"t":4180,"e":8.04},{"t":4188,"e":7.41},{"t":4196,"e":9.13},{"t":4204,"e":6.87},{"t":4212,"e":7.64},{"t":4220,"e":8.44},{"t":4228,"e":7.97},{"t":4236,"e":6.69},{"t":4244,"e":8.21},{"t":4252,"e":7.38},{"t":4260,"e":8.86},{"t":4268,"e":7.74},{"t":4276,"e":6.96},{"t":4284,"e":8.32},{"t":4292,"e":7.89},{"t":4300,"e":7.19},{"t":4308,"e":8.67},{"t":4316,"e":7.58},{"t":4324,"e":6.79},{"t":4332,"e":8.13},{"t":4340,"e":7.84},{"t":4348,"e":8.97},{"t":4356,"e":7.26},{"t":4364,"e":6.86},{"t":4372,"e":8.48},{"t":4380,"e":7.69},{"t":4388,"e":8.24},{"t":4396,"e":7.45},{"t":4404,"e":6.73},{"t":4412,"e":8.78},{"t":4420,"e":7.93},{"t":4428,"e":7.31},{"t":4436,"e":8.57},{"t":4444,"e":7.77},{"t":4452,"e":6.92},{"t":4460,"e":8.29},{"t":4468,"e":8.02},{"t":4476,"e":7.14},{"t":4484,"e":9.08},{"t":4492,"e":7.61},{"t":4500,"e":6.84},{"t":4508,"e":8.36},{"t":4516,"e":7.87},{"t":4524,"e":8.16},{"t":4532,"e":7.36},{"t":4540,"e":6.97},{"t":4548,"e":8.82},{"t":4556,"e":7.54},{"t":4564,"e":8.43},{"t":4572,"e":7.91},{"t":4580,"e":6.76},{"t":4588,"e":8.18},{"t":4596,"e":7.66},{"t":4604,"e":8.69},{"t":4612,"e":7.22},{"t":4620,"e":6.89},{"t":4628,"e":8.51},{"t":4636,"e":7.96},{"t":4644,"e":7.43},{"t":4652,"e":8.26},{"t":4660,"e":7.71},{"t":4668,"e":6.81},{"t":4676,"e":8.64},{"t":4684,"e":7.99},{"t":4692,"e":7.09},{"t":4700,"e":9.14},{"t":4708,"e":7.56},{"t":4716,"e":6.94},{"t":4724,"e":8.39},{"t":4732,"e":7.83},{"t":4740,"e":8.08},{"t":4748,"e":7.29},{"t":4756,"e":6.88},{"t":4764,"e":8.76},{"t":4772,"e":7.62},{"t":4780,"e":8.31},{"t":4788,"e":7.94},{"t":4796,"e":6.98},
{"t":4804,"e":8.37},{"t":4812,"e":7.66},{"t":4820,"e":8.88},{"t":4828,"e":7.31},{"t":4836,"e":8.14},{"t":4844,"e":7.92},{"t":4852,"e":6.94},{"t":4860,"e":8.53},{"t":4868,"e":7.74},{"t":4876,"e":8.26},{"t":4884,"e":7.47},{"t":4892,"e":9.06},{"t":4900,"e":7.03},{"t":4908,"e":7.87},{"t":4916,"e":8.42},{"t":4924,"e":8.01},{"t":4932,"e":7.19},{"t":4940,"e":8.73},{"t":4948,"e":7.58},{"t":4956,"e":6.86},{"t":4964,"e":8.32},{"t":4972,"e":7.97},{"t":4980,"e":8.61},{"t":4988,"e":7.39},{"t":4996,"e":6.99},{"t":5004,"e":8.19},{"t":5012,"e":7.83},{"t":5020,"e":8.94},{"t":5028,"e":7.24},{"t":5036,"e":8.47},{"t":5044,"e":7.71},{"t":5052,"e":6.91},{"t":5060,"e":8.07},{"t":5068,"e":7.94},{"t":5076,"e":8.68},{"t":5084,"e":7.52},{"t":5092,"e":9.17},{"t":5100,"e":7.14},{"t":5108,"e":7.89},{"t":5116,"e":8.36},{"t":5124,"e":8.04},{"t":5132,"e":7.43},{"t":5140,"e":6.88},{"t":5148,"e":8.77},{"t":5156,"e":7.68},{"t":5164,"e":8.22},{"t":5172,"e":7.35},{"t":5180,"e":8.91},{"t":5188,"e":7.81},{"t":5196,"e":6.97},{"t":5204,"e":8.44},{"t":5212,"e":8.09},{"t":5220,"e":7.27},{"t":5228,"e":8.63},{"t":5236,"e":7.61},{"t":5244,"e":6.84},{"t":5252,"e":8.31},{"t":5260,"e":7.96},{"t":5268,"e":8.17},{"t":5276,"e":7.46},{"t":5284,"e":9.03},{"t":5292,"e":7.72},{"t":5300,"e":6.93},{"t":5308,"e":8.55},{"t":5316,"e":7.91},{"t":5324,"e":7.18},{"t":5332,"e":8.81},{"t":5340,"e":7.55},{"t":5348,"e":8.12},{"t":5356,"e":7.84},{"t":5364,"e":6.89},{"t":5372,"e":8.66},{"t":5380,"e":8.03},{"t":5388,"e":7.33},{"t":5396,"e":8.38},{"t":5404,"e":7.63},{"t":5412,"e":9.12},{"t":5420,"e":7.06},{"t":5428,"e":7.93},{"t":5436,"e":8.27},{"t":5444,"e":7.49},{"t":5452,"e":6.96},{"t":5460,"e":8.72},{"t":5468,"e":7.88},{"t":5476,"e":8.11},{"t":5484,"e":7.36},{"t":5492,"e":8.86},{"t":5500,"e":7.69},{"t":5508,"e":6.92},{"t":5516,"e":8.43},{"t":5524,"e":8.06},{"t":5532,"e":7.21},{"t":5540,"e":8.97},{"t":5548,"e":7.59},{"t":5556,"e":7.97},{"t":5564,"e":8.24},{"t":5572,"e":7.42},{"t":5580,"e":6.87},{"t":5588,"e":8.58},{"t":5596,"e":7.82},
{"t":5604,"e":8.13},{"t":5612,"e":7.36},{"t":5620,"e":8.79},{"t":5628,"e":7.67},{"t":5636,"e":6.93},{"t":5644,"e":8.39},{"t":5652,"e":8.02},{"t":5660,"e":7.26},{"t":5668,"e":9.09},{"t":5676,"e":7.74},{"t":5684,"e":6.97},{"t":5692,"e":8.48},{"t":5700,"e":7.91},{"t":5708,"e":8.21},{"t":5716,"e":7.42},{"t":5724,"e":8.87},{"t":5732,"e":7.58},{"t":5740,"e":6.89},{"t":5748,"e":8.34},{"t":5756,"e":8.06},{"t":5764,"e":7.17},{"t":5772,"e":8.66},{"t":5780,"e":7.84},{"t":5788,"e":6.95},{"t":5796,"e":8.27},{"t":5804,"e":7.96},{"t":5812,"e":8.73},{"t":5820,"e":7.33},{"t":5828,"e":9.16},{"t":5836,"e":7.62},{"t":5844,"e":6.86},{"t":5852,"e":8.52},{"t":5860,"e":7.99},{"t":5868,"e":8.16},{"t":5876,"e":7.46},{"t":5884,"e":8.94},{"t":5892,"e":7.71},{"t":5900,"e":6.98},{"t":5908,"e":8.29},{"t":5916,"e":8.08},{"t":5924,"e":7.28},{"t":5932,"e":8.61},{"t":5940,"e":7.83},{"t":5948,"e":6.91},{"t":5956,"e":8.44},{"t":5964,"e":7.94},{"t":5972,"e":8.19},{"t":5980,"e":7.39},{"t":5988,"e":9.04},{"t":5996,"e":7.65},{"t":6004,"e":6.88},{"t":6012,"e":8.36},{"t":6020,"e":7.98},{"t":6028,"e":8.69},{"t":6036,"e":7.24},{"t":6044,"e":6.96},{"t":6052,"e":8.57},{"t":6060,"e":7.87},{"t":6068,"e":8.11},{"t":6076,"e":7.51},{"t":6084,"e":8.83},{"t":6092,"e":7.73},{"t":6100,"e":6.94},{"t":6108,"e":8.24},{"t":6116,"e":8.04},{"t":6124,"e":7.35},{"t":6132,"e":9.11},{"t":6140,"e":7.61},{"t":6148,"e":6.87},{"t":6156,"e":8.47},{"t":6164,"e":7.92},{"t":6172,"e":8.18},{"t":6180,"e":7.43},{"t":6188,"e":8.76},{"t":6196,"e":7.68},{"t":6204,"e":6.99},{"t":6212,"e":8.32},{"t":6220,"e":8.07},{"t":6228,"e":7.19},{"t":6236,"e":8.91},{"t":6244,"e":7.79},{"t":6252,"e":6.92},{"t":6260,"e":8.41},{"t":6268,"e":7.97},{"t":6276,"e":8.23},{"t":6284,"e":7.32},{"t":6292,"e":8.64},{"t":6300,"e":7.56},{"t":6308,"e":6.84},{"t":6316,"e":8.53},{"t":6324,"e":8.01},{"t":6332,"e":7.27},{"t":6340,"e":9.13},{"t":6348,"e":7.72},{"t":6356,"e":6.95},{"t":6364,"e":8.34},{"t":6372,"e":7.88},{"t":6380,"e":8.16},{"t":6388,"e":7.41},{"t":6396,"e":8.81},
{"t":6404,"e":7.64},{"t":6412,"e":6.91},{"t":6420,"e":8.42},{"t":6428,"e":8.03},{"t":6436,"e":7.21},{"t":6444,"e":8.96},{"t":6452,"e":7.69},{"t":6460,"e":6.88},{"t":6468,"e":8.31},{"t":6476,"e":7.93},{"t":6484,"e":8.14},{"t":6492,"e":7.38},{"t":6500,"e":8.77},{"t":6508,"e":7.59},{"t":6516,"e":6.94},{"t":6524,"e":8.51},{"t":6532,"e":8.04},{"t":6540,"e":7.26},{"t":6548,"e":9.09},{"t":6556,"e":7.72},{"t":6564,"e":6.86},{"t":6572,"e":8.39},{"t":6580,"e":7.96},{"t":6588,"e":8.22},{"t":6596,"e":7.44},{"t":6604,"e":8.84},{"t":6612,"e":7.66},{"t":6620,"e":6.97},{"t":6628,"e":8.28},{"t":6636,"e":8.06},{"t":6644,"e":7.31},{"t":6652,"e":8.63},{"t":6660,"e":7.81},{"t":6668,"e":6.89},{"t":6676,"e":8.46},{"t":6684,"e":7.91},{"t":6692,"e":8.17},{"t":6700,"e":7.36},{"t":6708,"e":9.14},{"t":6716,"e":7.61},{"t":6724,"e":6.93},{"t":6732,"e":8.34},{"t":6740,"e":7.99},{"t":6748,"e":8.71},{"t":6756,"e":7.23},{"t":6764,"e":6.85},{"t":6772,"e":8.56},{"t":6780,"e":7.86},{"t":6788,"e":8.12},{"t":6796,"e":7.47},{"t":6804,"e":8.93},{"t":6812,"e":7.68},{"t":6820,"e":6.96},{"t":6828,"e":8.24},{"t":6836,"e":8.01},{"t":6844,"e":7.29},{"t":6852,"e":8.81},{"t":6860,"e":7.74},{"t":6868,"e":6.91},{"t":6876,"e":8.43},{"t":6884,"e":7.95},{"t":6892,"e":8.19},{"t":6900,"e":7.39},{"t":6908,"e":9.06},{"t":6916,"e":7.63},{"t":6924,"e":6.87},{"t":6932,"e":8.36},{"t":6940,"e":7.89},{"t":6948,"e":8.67},{"t":6956,"e":7.34},{"t":6964,"e":6.94},{"t":6972,"e":8.54},{"t":6980,"e":7.98},{"t":6988,"e":8.21},{"t":6996,"e":7.42},{"t":7004,"e":8.89},{"t":7012,"e":7.71},{"t":7020,"e":6.89},{"t":7028,"e":8.29},{"t":7036,"e":8.07},{"t":7044,"e":7.18},{"t":7052,"e":9.12},{"t":7060,"e":7.66},{"t":7068,"e":6.92},{"t":7076,"e":8.47},{"t":7084,"e":7.94},{"t":7092,"e":8.13},{"t":7100,"e":7.37},{"t":7108,"e":8.74},{"t":7116,"e":7.58},{"t":7124,"e":6.95},{"t":7132,"e":8.38},{"t":7140,"e":8.02},{"t":7148,"e":7.27},{"t":7156,"e":8.91},{"t":7164,"e":7.79},
{"t":164,"e":4.79},{"t":179,"e":5.66},{"t":170,"e":5.31},{"t":253,"e":5.24},{"t":342,"e":5.79},{"t":476,"e":5.76},{"t":655,"e":5.52},{"t":595,"e":4.63},{"t":878,"e":5.55},{"t":952,"e":5.59},{"t":1175,"e":5.48},{"t":1309,"e":5.03},{"t":1532,"e":5.52},{"t":1681,"e":4.17},{"t":1830,"e":5.28},{"t":1889,"e":5.41},{"t":2068,"e":5.38},{"t":2202,"e":5.41},{"t":2484,"e":5.48},{"t":2588,"e":5.45},{"t":2752,"e":5.24},{"t":2931,"e":5.14},{"t":3094,"e":5.38},{"t":3436,"e":5.1},{"t":3481,"e":5.48},{"t":3600,"e":5.79},{"t":3704,"e":5.59},{"t":3793,"e":5.52},{"t":4017,"e":5.34},{"t":4061,"e":5.79},{"t":4269,"e":4.79},{"t":4448,"e":5.83},{"t":4493,"e":5.41},{"t":4552,"e":5.66},{"t":4641,"e":5.0},{"t":4686,"e":5.34},{"t":4745,"e":5.83},{"t":4835,"e":4.28},{"t":5162,"e":5.59},{"t":5326,"e":5.34},{"t":5564,"e":5.14},{"t":5757,"e":5.62},{"t":5765,"e":4.9},{"t":5727,"e":4.24},{"t":5831,"e":5.52},{"t":5950,"e":5.83},{"t":6307,"e":5.66},{"t":6292,"e":4.79},{"t":6620,"e":5.28},{"t":6625,"e":5.03},{"t":6615,"e":4.0},{"t":6605,"e":3.28},{"t":6739,"e":5.59},{"t":6813,"e":5.45},{"t":6069,"e":6.17},{"t":6174,"e":6.03},{"t":6397,"e":6.24},{"t":6501,"e":6.31},{"t":6769,"e":6.07},{"t":6843,"e":6.34},{"t":4805,"e":0.58},{"t":4810,"e":0.14},{"t":6050,"e":0.58},{"t":1012,"e":9.93},{"t":1874,"e":9.9},{"t":5608,"e":10.21},{"t":5615,"e":9.93},{"t":4998,"e":9.69},{"t":3288,"e":9.38},{"t":400,"e":6.1},{"t":1100,"e":6.05},{"t":1450,"e":6.2},{"t":2300,"e":6.12},{"t":2700,"e":6.0},{"t":3150,"e":6.15},{"t":3900,"e":6.08},{"t":4300,"e":5.95},{"t":5000,"e":6.1},{"t":5450,"e":6.0},{"t":6000,"e":5.98},{"t":6950,"e":6.14},{"t":90,"e":9.42},{"t":2050,"e":9.38},{"t":4400,"e":9.45},{"t":6650,"e":9.4},{"t":3000,"e":9.36}
]},
"resolve":{"axis":{"x":"independent","y":"independent"}},
"layer":[
{"data":{"name":"pts"},
 "mark":{"type":"point","filled":false,"color":"#ff0000","size":34,"strokeWidth":1,"opacity":1},
 "encoding":{
  "x":{"field":"t","type":"quantitative","scale":{"domain":[0,7170],"nice":false,"zero":false},
   "axis":{"orient":"bottom","values":[0,300,600,900,1200,1500,1800,2100,2400,2700,3000,3300,3600,3900,4200,4500,4800,5100,5400,5700,6000,6300,6600,6900],"labels":false,
    "tickSize":{"condition":{"test":"datum.value % 900 === 0","value":-7},"value":-4},
    "title":"Time","titleFontSize":19,"titleFontWeight":"normal","titleX":241,"titleY":38,"titleAlign":"center","titleBaseline":"alphabetic"}},
  "y":{"field":"e","type":"quantitative","scale":{"domain":[0,12],"nice":false,"zero":false},
   "axis":{"orient":"left","values":[0,0.5,1,1.5,2,2.5,3,3.5,4,4.5,5,5.5,6,6.5,7,7.5,8,8.5,9,9.5,10,10.5,11,11.5,12],
    "labelExpr":"datum.value % 2 === 0 ? format(datum.value, 'd') : ''","labelFontSize":21,"labelPadding":19,
    "labelOffset":{"condition":{"test":"datum.value === 0","value":-9},"value":0},
    "tickSize":{"condition":{"test":"datum.value % 2 === 0","value":-7},"value":-4},
    "title":"Laser Pulse Energy (a.u.)","titleFontSize":18,"titleFontWeight":"normal","titleX":-48,"titleY":162,"titleAlign":"center","titleBaseline":"alphabetic","titleAngle":270}}
 }},
{"data":{"values":[{"a":0,"b":7165,"y":0.7}]},
 "mark":{"type":"rule","color":"black","strokeWidth":1.3},
 "encoding":{
  "x":{"field":"a","type":"quantitative","scale":{"domain":[0,7170],"nice":false,"zero":false},
   "axis":{"orient":"top","values":[0,300,600,900,1200,1500,1800,2100,2400,2700,3000,3300,3600,3900,4200,4500,4800,5100,5400,5700,6000,6300,6600,6900],"labels":false,"title":null,
    "tickSize":{"condition":{"test":"datum.value % 900 === 0","value":-7},"value":-4}}},
  "x2":{"field":"b"},
  "y":{"field":"y","type":"quantitative","scale":{"domain":[0,12],"nice":false,"zero":false},
   "axis":{"orient":"right","values":[0,0.5,1,1.5,2,2.5,3,3.5,4,4.5,5,5.5,6,6.5,7,7.5,8,8.5,9,9.5,10,10.5,11,11.5,12],"labels":false,"title":null,"domain":false,
    "tickSize":{"condition":{"test":"datum.value % 2 === 0","value":-7},"value":-4}}}
 }},
{"data":{"values":[{"t":0,"y":0.7}]},
 "mark":{"type":"point","shape":"M0,0L2,-0.8L2,0.8Z","filled":true,"color":"black","size":100,"strokeWidth":0,"opacity":1},
 "encoding":{"x":{"field":"t","type":"quantitative","axis":null},"y":{"field":"y","type":"quantitative","axis":null}}},
{"data":{"values":[{"t":7165,"y":0.7}]},
 "mark":{"type":"point","shape":"M0,0L-2,-0.8L-2,0.8Z","filled":true,"color":"black","size":100,"strokeWidth":0,"opacity":1},
 "encoding":{"x":{"field":"t","type":"quantitative","axis":null},"y":{"field":"y","type":"quantitative","axis":null}}},
{"data":{"values":[{"t":3645,"y":0.93,"s":"2 hr"}]},
 "mark":{"type":"text","font":"Liberation Sans","fontSize":19,"fontWeight":"bold","color":"black","align":"center","baseline":"alphabetic"},
 "encoding":{"x":{"field":"t","type":"quantitative","axis":null},"y":{"field":"y","type":"quantitative","axis":null},"text":{"field":"s"}}},
{"data":{"values":[{"t":5976,"y":4.11,"s":"50 nm"},{"t":5976,"y":3.14,"s":"60 Hz"},{"t":3337,"y":2.13,"s":"Fluctuation 11%(STD)"}]},
 "mark":{"type":"text","font":"Liberation Sans","fontSize":24,"fontWeight":"bold","color":"black","align":"left","baseline":"alphabetic"},
 "encoding":{"x":{"field":"t","type":"quantitative","axis":null},"y":{"field":"y","type":"quantitative","axis":null},"text":{"field":"s"}}}
]
}
